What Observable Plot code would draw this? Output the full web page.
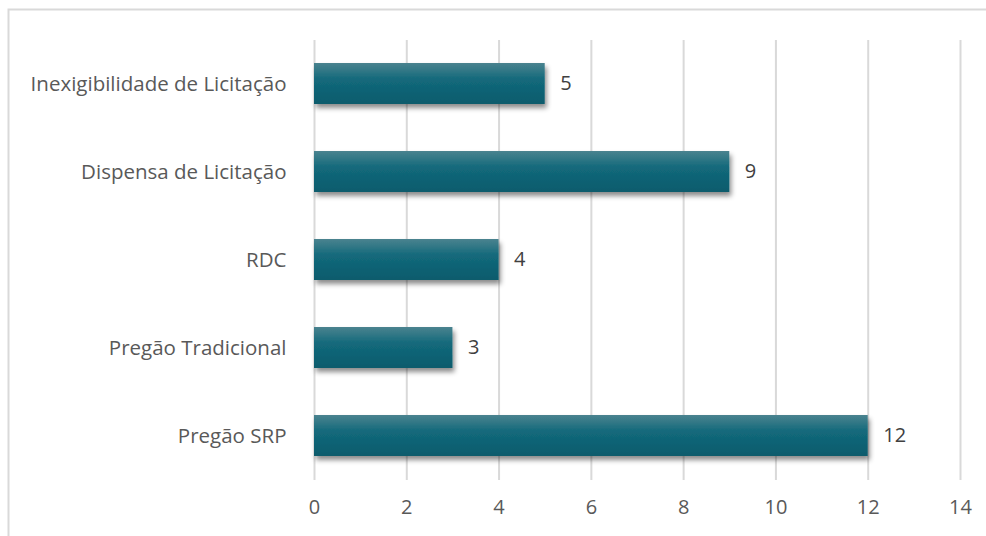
<!DOCTYPE html>
<html>
<head>
<meta charset="utf-8">
<script src="https://cdn.jsdelivr.net/npm/d3@7"></script>
<script src="https://cdn.jsdelivr.net/npm/@observablehq/plot@0.6"></script>
<style>
  html, body { margin: 0; padding: 0; background: #fff; }
  #chart { width: 986px; height: 536px; overflow: hidden; }
</style>
</head>
<body>
<div id="chart"></div>
<script>
const categories = ["Inexigibilidade de Licitação", "Dispensa de Licitação", "RDC", "Pregão Tradicional", "Pregão SRP"];
const values = [5, 9, 4, 3, 12];
const xTicks = [0, 2, 4, 6, 8, 10, 12, 14];

const data = categories.map((c, i) => ({category: c, value: values[i]}));

const plot = Plot.plot({
  width: 986,
  height: 536,
  marginLeft: 314,
  marginRight: 26,
  marginTop: 40,
  marginBottom: 56,
  style: {fontFamily: "'Open Sans', Lato, sans-serif", fontSize: "20px", color: "#595959", background: "#fff"},
  x: {domain: [0, 14], ticks: xTicks, label: null},
  y: {domain: categories, paddingInner: 0.53, paddingOuter: 0.265, label: null},
  marks: [
    Plot.ruleX(xTicks, {stroke: "#d9d9d9", strokeWidth: 2, strokeOpacity: 1}),
    Plot.barX(data, {x: "value", y: "category", fill: "url(#barGrad)"}),
    Plot.text(data, {x: "value", y: "category", text: d => String(d.value), textAnchor: "start", dx: 15, fill: "#404040", fontSize: 20}),
    Plot.axisX({ticks: xTicks, tickSize: 0, tickPadding: 19, fontSize: 20, fill: "#595959", label: null}),
    Plot.axisY({tickSize: 0, tickPadding: 28, fontSize: 20.5, fill: "#595959", label: null})
  ]
});

const svg = d3.select(plot);
const defs = svg.insert("defs", ":first-child");
const grad = defs.append("linearGradient").attr("id", "barGrad").attr("x1", 0).attr("y1", 0).attr("x2", 0).attr("y2", 1);
grad.append("stop").attr("offset", "0%").attr("stop-color", "#4a838f");
grad.append("stop").attr("offset", "40%").attr("stop-color", "#13697b");
grad.append("stop").attr("offset", "100%").attr("stop-color", "#0a5b6c");
const filt = defs.append("filter").attr("id", "shadow").attr("x", "-5%").attr("y", "-20%").attr("width", "115%").attr("height", "160%");
filt.append("feDropShadow").attr("dx", 2).attr("dy", 4).attr("stdDeviation", 2.5).attr("flood-color", "#000").attr("flood-opacity", 0.45);
svg.selectAll("g[aria-label='bar'] rect").attr("filter", "url(#shadow)");
svg.insert("rect", "defs + *")
  .attr("x", 8.5).attr("y", 9.5).attr("width", 1000).attr("height", 600)
  .attr("fill", "none").attr("stroke", "#d9d9d9").attr("stroke-width", 2);

document.getElementById("chart").appendChild(plot);
</script>
</body>
</html>
